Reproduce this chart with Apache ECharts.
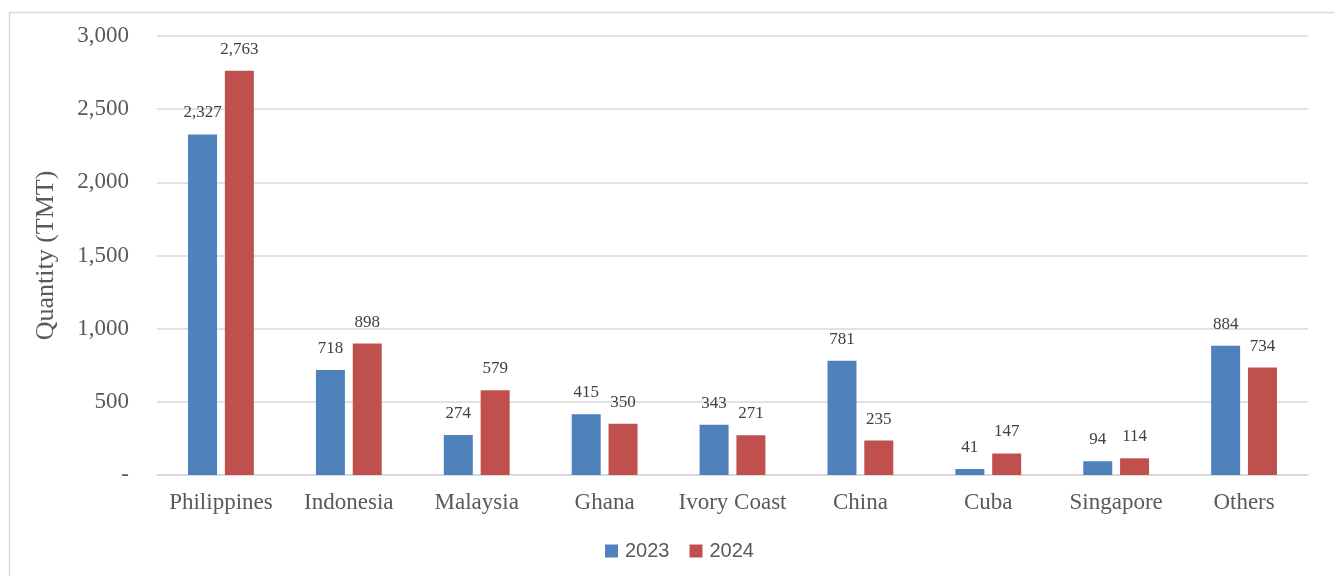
<!DOCTYPE html>
<html>
<head>
<meta charset="utf-8">
<script src="https://cdn.jsdelivr.net/npm/echarts@6/dist/echarts.min.js"></script>
<style>
  html, body { margin: 0; padding: 0; background: #ffffff; }
  #chart { width: 1334px; height: 576px; }
</style>
</head>
<body>
<div id="chart"></div>
<script>
// Import quantities by source country, thousand metric tonnes
const categories = ['Philippines', 'Indonesia', 'Malaysia', 'Ghana', 'Ivory Coast', 'China', 'Cuba', 'Singapore', 'Others'];
const values2023 = [2327, 718, 274, 415, 343, 781, 41, 94, 884];
const values2024 = [2763, 898, 579, 350, 271, 235, 147, 114, 734];
const seriesNames = ['2023', '2024'];
const yAxisTitle = 'Quantity (TMT)';

const serif = '"Liberation Serif", "Times New Roman", serif';
const textGray = '#595959';
const gridGray = '#d9d9d9';

const fmt = v => (v === 0 ? '-' : v.toLocaleString('en-US'));

const chart = echarts.init(document.getElementById('chart'), null, { renderer: 'canvas' });

const labelStyle = {
  show: true,
  position: 'top',
  distance: 13,
  fontFamily: serif,
  fontSize: 17,
  color: '#404040',
  formatter: p => fmt(p.value)
};

chart.setOption({
  backgroundColor: '#ffffff',
  animation: false,
  graphic: [{
    type: 'rect',
    shape: { x: 9.5, y: 12.5, width: 1400, height: 600 },
    style: { fill: 'none', stroke: '#d9d9d9', lineWidth: 1.5 },
    silent: true,
    z: -1
  }],
  grid: { left: 157, right: 26, top: 36, bottom: 101 },
  legend: {
    data: seriesNames,
    bottom: 10,
    left: 600,
    itemWidth: 13,
    itemHeight: 13,
    itemGap: 20,
    icon: 'rect',
    textStyle: { fontFamily: '"Liberation Sans", Arial, sans-serif', fontSize: 20, color: textGray, padding: [0, 0, 0, 2] }
  },
  xAxis: {
    type: 'category',
    data: categories,
    axisLine: { lineStyle: { color: gridGray, width: 1.5 } },
    axisTick: { show: false },
    axisLabel: { interval: 0, fontFamily: serif, fontSize: 23, color: textGray, margin: 16 }
  },
  yAxis: {
    type: 'value',
    min: 0,
    max: 3000,
    interval: 500,
    name: yAxisTitle,
    nameLocation: 'middle',
    nameGap: 98,
    nameTextStyle: { fontFamily: serif, fontSize: 26, color: textGray },
    axisLine: { show: false },
    axisTick: { show: false },
    splitLine: { lineStyle: { color: gridGray, width: 1.5 } },
    axisLabel: { fontFamily: serif, fontSize: 23, color: textGray, margin: 28, formatter: fmt }
  },
  series: [
    {
      name: seriesNames[0],
      type: 'bar',
      data: values2023,
      barWidth: 29,
      barGap: '27%',
      itemStyle: { color: '#4f81bd' },
      label: labelStyle
    },
    {
      name: seriesNames[1],
      type: 'bar',
      data: values2024,
      barWidth: 29,
      barGap: '27%',
      itemStyle: { color: '#c0504d' },
      label: labelStyle
    }
  ]
});
</script>
</body>
</html>
